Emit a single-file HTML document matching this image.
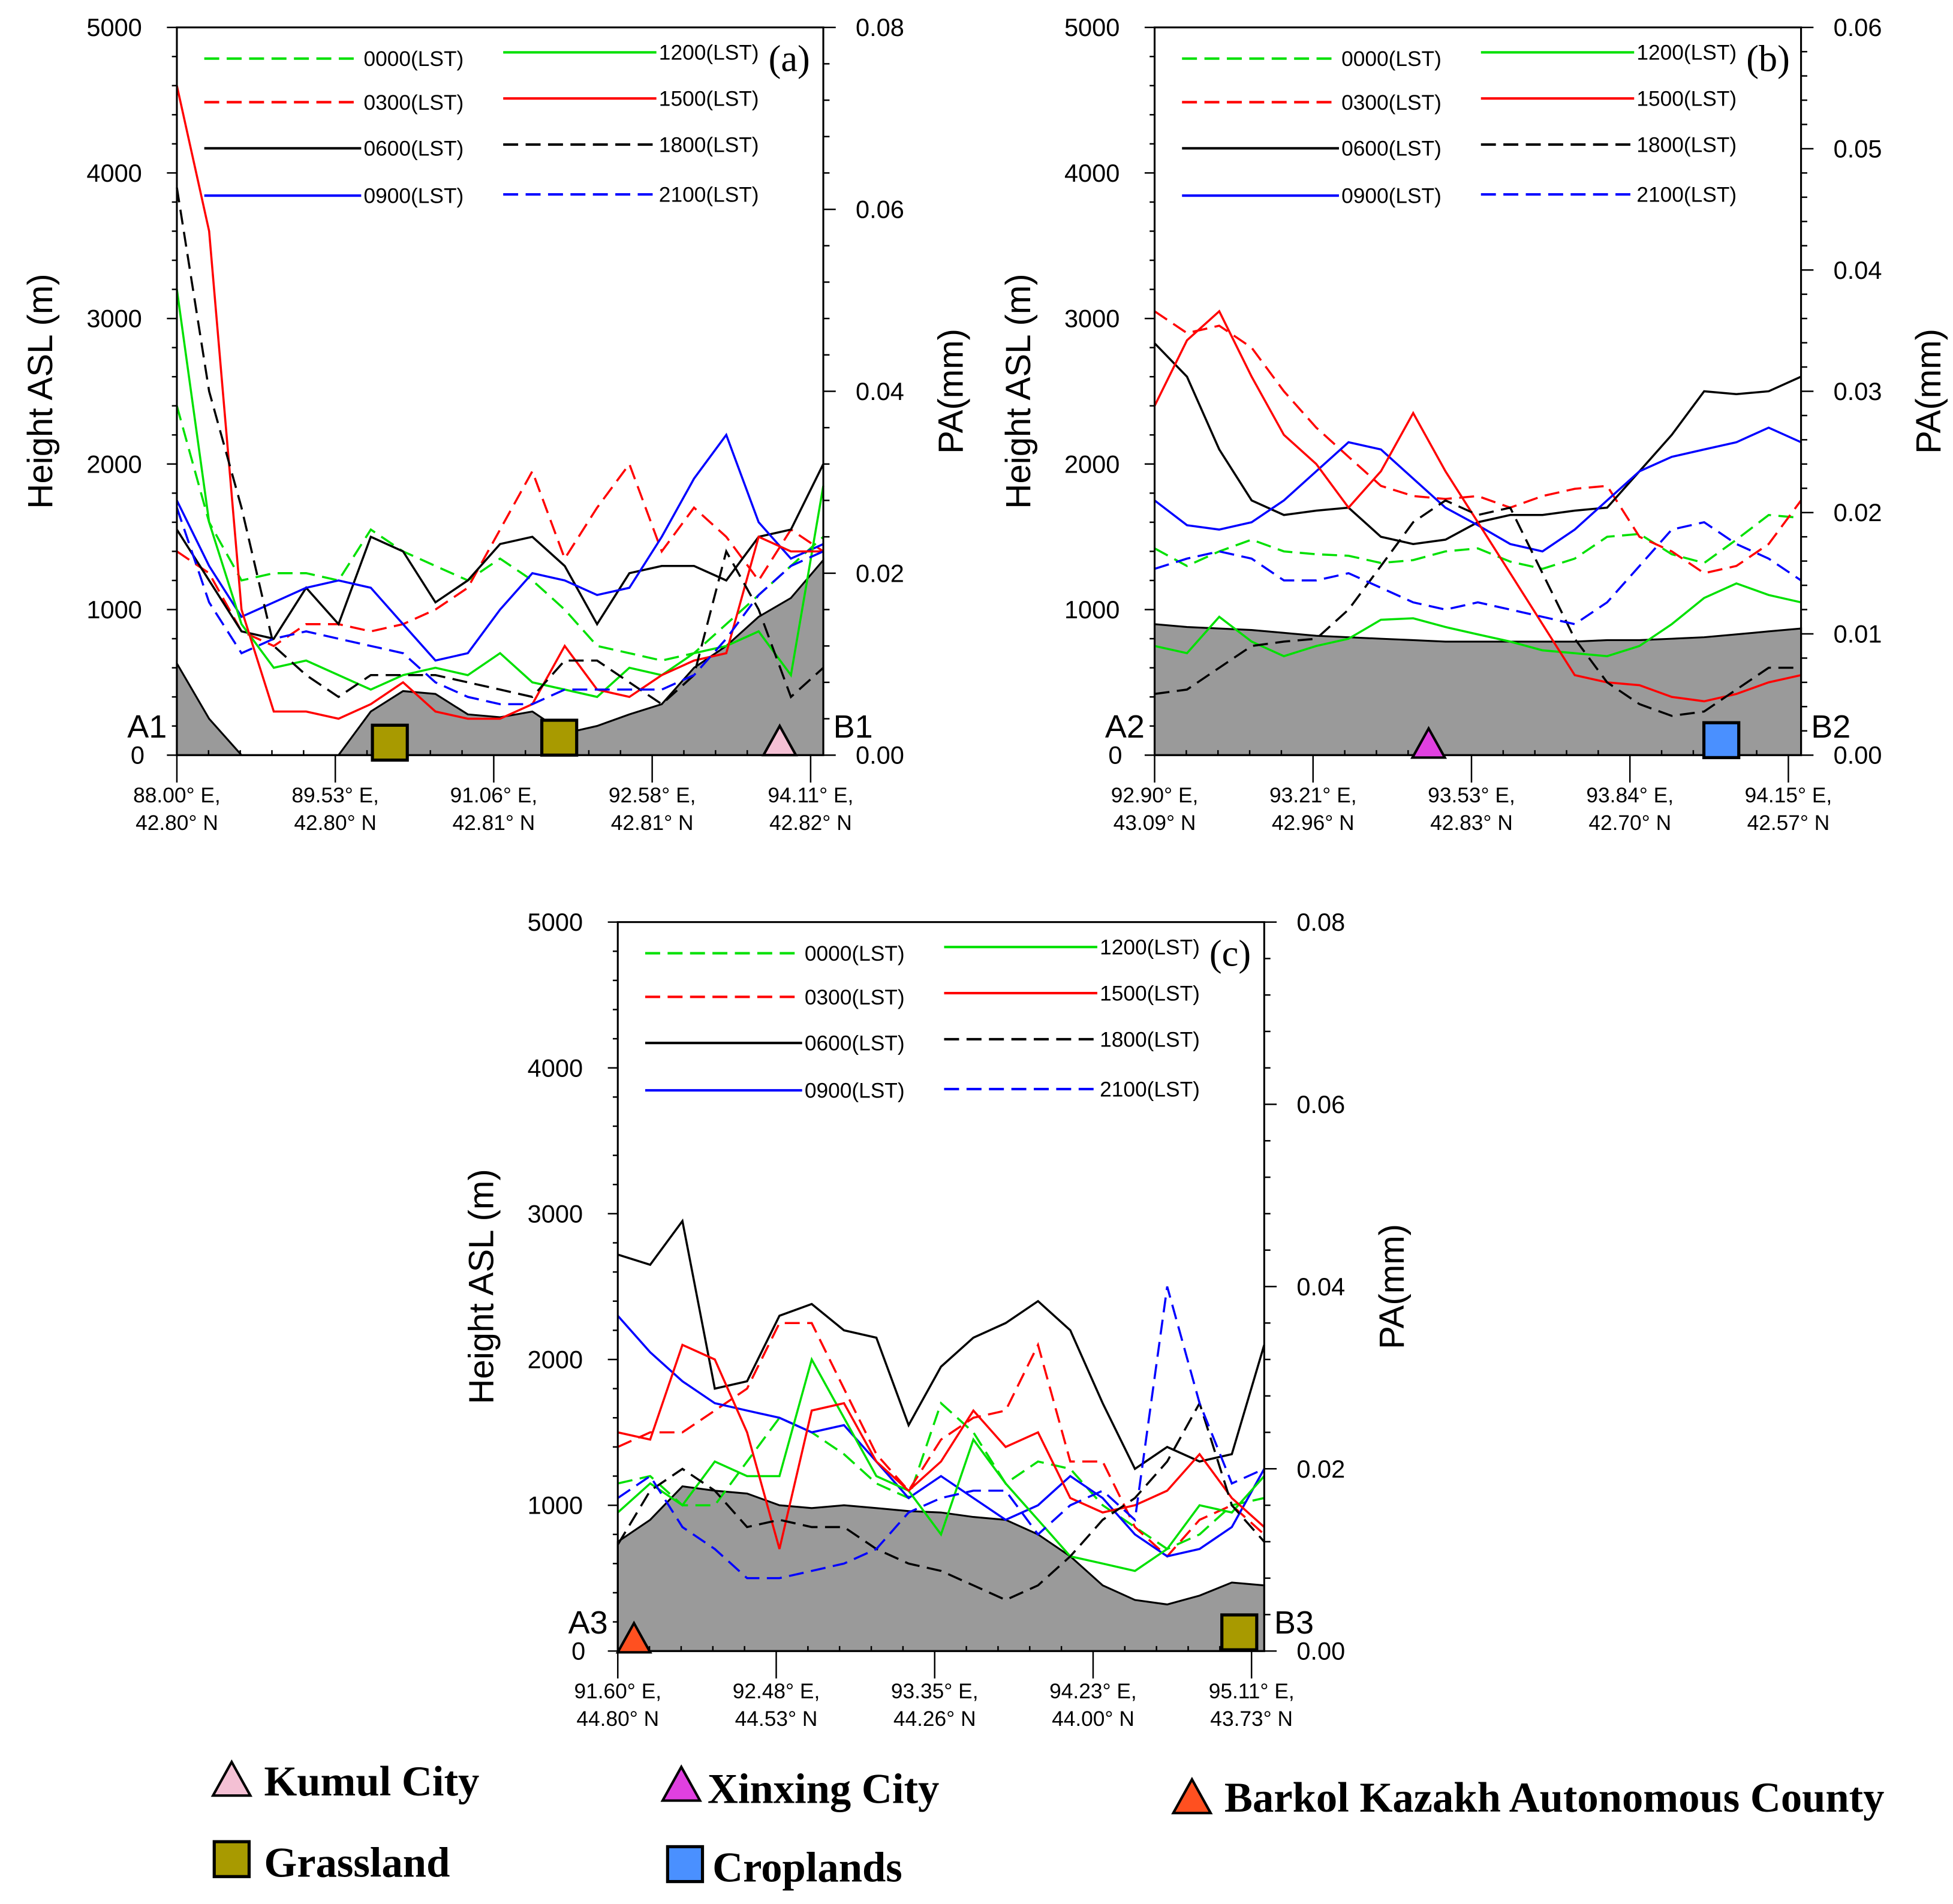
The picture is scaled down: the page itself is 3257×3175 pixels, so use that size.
<!DOCTYPE html>
<html><head><meta charset="utf-8"><style>
html,body{margin:0;padding:0;background:#fff;}
svg{display:block;}
text{font-family:"Liberation Sans",sans-serif;fill:#000;}
.ser{font-family:"Liberation Serif",serif;}
</style></head><body>
<svg id="fig" width="3257" height="3175" viewBox="0 0 1568 1528" preserveAspectRatio="none" xmlns="http://www.w3.org/2000/svg"></svg>
<script>
// ---- data (heights in m-equivalent on left axis, evenly spaced along transect) ----
const seriesNames = ["0000(LST)","0300(LST)","0600(LST)","0900(LST)","1200(LST)","1500(LST)","1800(LST)","2100(LST)"];
const seriesColors = ["#00e000","#ff0000","#000000","#0000ff","#00e000","#ff0000","#000000","#0000ff"];
const seriesDashed = [true,true,false,false,false,false,true,true];
const leftTicks = [0,1000,2000,3000,4000,5000];
const rightTicksA = ["0.00","0.02","0.04","0.06","0.08"];
const rightTicksB = ["0.00","0.01","0.02","0.03","0.04","0.05","0.06"];
const xLabelsA = [["88.00° E,","42.80° N"],["89.53° E,","42.80° N"],["91.06° E,","42.81° N"],["92.58° E,","42.81° N"],["94.11° E,","42.82° N"]];
const xLabelsB = [["92.90° E,","43.09° N"],["93.21° E,","42.96° N"],["93.53° E,","42.83° N"],["93.84° E,","42.70° N"],["94.15° E,","42.57° N"]];
const xLabelsC = [["91.60° E,","44.80° N"],["92.48° E,","44.53° N"],["93.35° E,","44.26° N"],["94.23° E,","44.00° N"],["95.11° E,","43.73° N"]];

const terrainA = [630,250,0,0,0,0,300,440,420,280,260,300,150,200,280,350,600,750,950,1080,1340];
const a0000 = [2400,1600,1200,1250,1250,1200,1550,1400,1300,1200,1350,1200,1000,750,700,650,700,900,1100,1300,1500];
const a0300 = [1400,1250,850,750,900,900,850,900,1000,1150,1550,1950,1350,1700,2000,1400,1700,1500,1200,1550,1400];
const a0600 = [1550,1200,850,800,1150,900,1500,1400,1050,1200,1450,1500,1300,900,1250,1300,1300,1200,1500,1550,2000];
const a0900 = [1750,1300,950,1050,1150,1200,1150,900,650,700,1000,1250,1200,1100,1150,1500,1900,2200,1600,1350,1450];
const a1200 = [3200,1600,900,600,650,550,450,550,600,550,700,500,450,400,600,550,700,750,850,550,1850];
const a1500 = [4600,3600,1000,300,300,250,350,500,300,250,250,350,750,450,400,550,650,700,1500,1400,1400];
const a1800 = [3900,2500,1700,750,550,400,550,550,550,500,450,400,650,650,500,350,550,1400,1000,400,600];
const a2100 = [1700,1050,700,800,850,800,750,700,500,400,350,350,450,450,450,450,550,800,1100,1300,1400];

const terrainB = [900,880,870,860,840,820,810,800,790,780,780,780,780,780,790,790,800,810,830,850,870];
const b0000 = [1420,1300,1400,1480,1400,1380,1370,1320,1340,1400,1420,1330,1280,1350,1500,1520,1380,1320,1480,1650,1630];
const b0300 = [3050,2900,2950,2800,2500,2250,2050,1850,1780,1760,1780,1700,1780,1830,1850,1500,1400,1250,1300,1450,1750];
const b0600 = [2830,2600,2100,1750,1650,1680,1700,1500,1450,1480,1600,1650,1650,1680,1700,1950,2200,2500,2480,2500,2600];
const b0900 = [1750,1580,1550,1600,1750,1950,2150,2100,1900,1700,1580,1450,1400,1550,1750,1950,2050,2100,2150,2250,2150];
const b1200 = [750,700,950,780,680,750,800,930,940,880,830,780,720,700,680,750,900,1080,1180,1100,1050];
const b1500 = [2400,2850,3050,2600,2200,2000,1700,1950,2350,1950,1600,1250,900,550,500,480,400,370,420,500,550];
const b1800 = [420,450,600,750,780,800,1000,1300,1600,1750,1650,1700,1250,800,500,350,270,300,450,600,600];
const b2100 = [1280,1350,1400,1350,1200,1200,1250,1150,1050,1000,1050,1000,950,900,1050,1300,1550,1600,1450,1350,1200];

const terrainC = [750,900,1130,1100,1080,1000,980,1000,980,960,950,920,900,800,650,450,350,320,380,470,450];
const c0000 = [1150,1200,1000,1000,1300,1600,1500,1350,1150,1050,1700,1500,1150,1300,1250,1000,850,700,800,1000,1050];
const c0300 = [1400,1500,1500,1650,1800,2250,2250,1800,1350,1100,1450,1600,1650,2100,1300,1300,850,650,900,1000,800];
const c0600 = [2720,2650,2950,1800,1850,2300,2380,2200,2150,1550,1950,2150,2250,2400,2200,1700,1250,1400,1300,1350,2100];
const c0900 = [2300,2050,1850,1700,1650,1600,1500,1550,1300,1050,1200,1050,900,1000,1200,1050,800,650,700,850,1250];
const c1200 = [950,1150,1000,1300,1200,1200,2000,1600,1200,1100,800,1450,1150,900,650,600,550,700,1000,950,1200];
const c1500 = [1500,1450,2100,2000,1500,700,1650,1700,1300,1100,1300,1650,1400,1500,1050,950,1000,1100,1350,1050,850];
const c1800 = [730,1100,1250,1100,850,900,850,850,700,600,550,450,350,450,650,900,1050,1300,1700,1000,750];
const c2100 = [1050,1200,850,700,500,500,550,600,700,950,1050,1100,1100,800,1000,1100,900,2500,1700,1150,1250];

const NS="http://www.w3.org/2000/svg";
const fig=document.getElementById('fig');
function mk(tag,attrs,parent){const e=document.createElementNS(NS,tag);for(const k in attrs)e.setAttribute(k,attrs[k]);(parent||fig).appendChild(e);return e;}

function panel(p){
  const g=mk('g',{});
  
  
  const W=p.x1-p.x0,H=p.y1-p.y0;
  const xs=i=>p.x0+i*W/(p.terrain.length-1);
  const ys=v=>p.y1-v/5000*H;
  let d='M'+p.x0+','+p.y1;
  p.terrain.forEach((v,i)=>{d+=' L'+xs(i).toFixed(1)+','+ys(v).toFixed(1);});
  d+=' L'+p.x1+','+p.y1+' Z';
  const t=mk('path',{d:d,fill:'#9a9a9a',stroke:'#000','stroke-width':1.5},g);
  
  
  p.series.forEach((arr,k)=>{
    const pts=arr.map((v,i)=>xs(i).toFixed(1)+','+ys(v).toFixed(1)).join(' ');
    const l=mk('polyline',{points:pts,fill:'none',stroke:seriesColors[k],'stroke-width':1.7,'stroke-dasharray':seriesDashed[k]?'12,6':'none'},g);
    
    
  });
  const f=mk('rect',{x:p.x0,y:p.y0,width:W,height:H,fill:'none',stroke:'#000','stroke-width':1.5},g);
  
  
  for(let v=0;v<=5000;v+=200){
    const y=ys(v),major=v%1000===0;
    mk('line',{x1:p.x0-(major?8:4),x2:p.x0,y1:y,y2:y,stroke:'#000','stroke-width':1.2},g);
  }
  leftTicks.forEach(v=>{
    if(v===0)return;
    const tx=mk('text',{x:p.x0-28,y:ys(v)+7,'text-anchor':'end','font-size':20},g);
    tx.textContent=v;
    
    
  });
  const rt=p.rticks,n=rt.length-1,minor=p.rminor;
  for(let j=0;j<=n*minor;j++){
    const y=p.y1-j*H/(n*minor),major=j%minor===0;
    mk('line',{x1:p.x1,x2:p.x1+(major?10:5),y1:y,y2:y,stroke:'#000','stroke-width':1.2},g);
  }
  rt.forEach((s,j)=>{
    const tx=mk('text',{x:p.x1+26,y:p.y1-j*H/n+7,'font-size':20},g);
    tx.textContent=s;
    
    
  });
  const bt=W/(4.08);
  for(let j=0;j<=20;j++){
    const x=p.x0+j*bt/5; if(x>p.x1+1)break;
    const major=j%5===0;
    mk('line',{x1:x,x2:x,y1:p.y1-(major?0:4),y2:p.y1+(major?22:0),stroke:'#000','stroke-width':1.2},g);
  }
  p.xl.forEach((pair,j)=>{
    const x=p.x0+j*bt;
    pair.forEach((s,r)=>{
      const tx=mk('text',{x:x,y:p.y1+38+r*22,'text-anchor':'middle','font-size':17},g);
      tx.textContent=s;
      
      
    });
  });
  const yt=mk('text',{x:0,y:0,'text-anchor':'middle','font-size':28,transform:'translate('+(p.x0-100)+','+(p.y0+H/2)+') rotate(-90)'},g);
  yt.textContent='Height ASL (m)';
  
  
  const rtt=mk('text',{x:0,y:0,'text-anchor':'middle','font-size':28,transform:'translate('+(p.x1+112)+','+(p.y0+H/2)+') rotate(-90)'},g);
  rtt.textContent='PA(mm)';
  
  
  const la=mk('text',{x:p.x0-8,y:p.y1-14,'text-anchor':'end','font-size':26},g);
  la.textContent=p.A;  
  const lz=mk('text',{x:p.x0-26,y:p.y1+7,'text-anchor':'end','font-size':20},g);
  lz.textContent='0';
  
  
  const lb=mk('text',{x:p.x1+8,y:p.y1-14,'font-size':26},g);
  lb.textContent=p.B;  
  const lx=[p.x0+22,p.x0+262], tx=[p.x0+150,p.x0+387], ly=[[25,60,97,135],[20,57,94,134]];
  seriesNames.forEach((s,k)=>{
    const c=k<4?0:1,r=k%4,y=p.y0+ly[c][r];
    const ln=mk('line',{x1:lx[c],x2:tx[c]-2,y1:y,y2:y,stroke:seriesColors[k],'stroke-width':2,'stroke-dasharray':seriesDashed[k]?'12,6':'none'},g);
    
    
    const te=mk('text',{x:tx[c],y:y+6,'font-size':17},g);
    te.textContent=s;
    
    
  });
  const pl=mk('text',{x:p.x1-44,y:p.y0+35,'font-size':30,'class':'ser'},g);
  pl.textContent=p.label;  
  return g;
}
panel({id:'a',x0:142,x1:661,y0:22,y1:606,terrain:terrainA,series:[a0000,a0300,a0600,a0900,a1200,a1500,a1800,a2100],rticks:rightTicksA,rminor:5,xl:xLabelsA,A:'A1',B:'B1',label:'(a)'});
panel({id:'b',x0:927,x1:1446,y0:22,y1:606,terrain:terrainB,series:[b0000,b0300,b0600,b0900,b1200,b1500,b1800,b2100],rticks:rightTicksB,rminor:5,xl:xLabelsB,A:'A2',B:'B2',label:'(b)'});
panel({id:'c',x0:496,x1:1015,y0:740,y1:1325,terrain:terrainC,series:[c0000,c0300,c0600,c0900,c1200,c1500,c1800,c2100],rticks:rightTicksA,rminor:5,xl:xLabelsC,A:'A3',B:'B3',label:'(c)'});

function tri(cx,by,s,col,name){const e=mk('polygon',{points:(cx-s/2)+','+by+' '+cx+','+(by-s*0.9)+' '+(cx+s/2)+','+by,fill:col,stroke:'#000','stroke-width':2});}
function sq(x,y,s,col,name){const e=mk('rect',{x:x,y:y,width:s,height:s,fill:col,stroke:'#000','stroke-width':2.5});}
sq(299,582,28,'#a89a00','grassland-marker'); sq(435,578,28,'#a89a00','grassland-marker');
tri(626,606,26,'#f4c0d4','kumul-marker');
tri(1147,608,26,'#e040e0','xinxing-marker');
sq(1368,580,28,'#4a90ff','croplands-marker');
tri(509,1326,26,'#ff5020','barkol-marker');
sq(981,1296,28,'#a89a00','grassland-marker');
tri(186,1441,30,'#f4c0d4','legend-kumul-icon');
sq(172,1478,28,'#a89a00','legend-grassland-icon');
tri(547,1445,30,'#e040e0','legend-xinxing-icon');
sq(536,1482,28,'#4a90ff','legend-croplands-icon');
tri(957,1455,30,'#ff5020','legend-barkol-icon');
[[212,1441,'Kumul City'],[212,1506,'Grassland'],[568,1447,'Xinxing City'],[572,1510,'Croplands'],[983,1454,'Barkol Kazakh Autonomous County']].forEach(a=>{
  const t=mk('text',{x:a[0],y:a[1],'font-size':34,'font-weight':'bold','class':'ser'});
  t.textContent=a[2];
  
  
});
</script>
</body></html>
